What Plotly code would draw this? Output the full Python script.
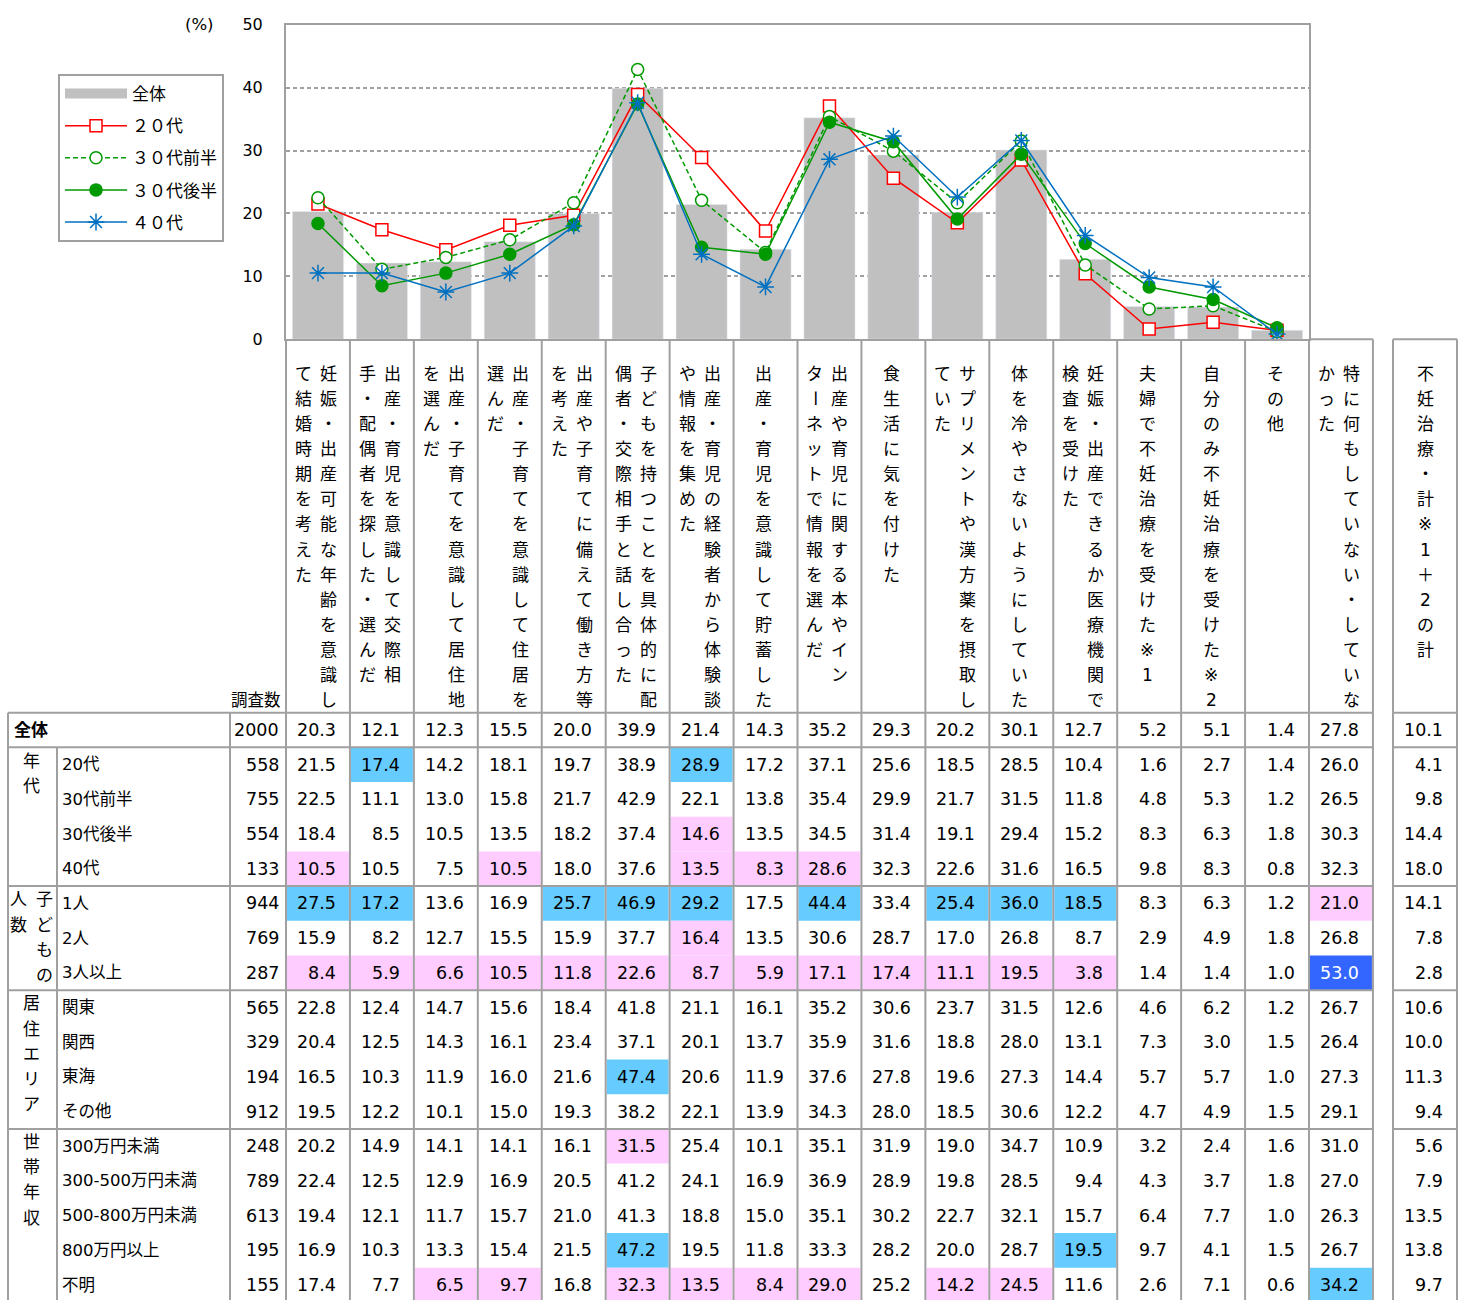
import plotly.graph_objects as go

W, H = 1464, 1310

# column headers (vertical text, first line is the right-hand column)
HEADERS = [
    ("妊娠・出産可能な年齢を意識し", "て結婚時期を考えた"),
    ("出産・育児を意識して交際相", "手・配偶者を探した・選んだ"),
    ("出産・子育てを意識して居住地", "を選んだ"),
    ("出産・子育てを意識して住居を", "選んだ"),
    ("出産や子育てに備えて働き方等", "を考えた"),
    ("子どもを持つことを具体的に配", "偶者・交際相手と話し合った"),
    ("出産・育児の経験者から体験談", "や情報を集めた"),
    ("出産・育児を意識して貯蓄した",),
    ("出産や育児に関する本やイン", "ターネットで情報を選んだ"),
    ("食生活に気を付けた",),
    ("サプリメントや漢方薬を摂取し", "ていた"),
    ("体を冷やさないようにしていた",),
    ("妊娠・出産できるか医療機関で", "検査を受けた"),
    ("夫婦で不妊治療を受けた※1",),
    ("自分のみ不妊治療を受けた※2",),
    ("その他",),
    ("特に何もしていない・していな", "かった"),
]
FUNIN_HEADER = ("不妊治療・計※1＋2の計",)
N_CHART = 16  # categories shown in the chart

ROW_LABELS = ["全体", "20代", "30代前半", "30代後半", "40代", "1人", "2人", "3人以上",
              "関東", "関西", "東海", "その他", "300万円未満", "300-500万円未満",
              "500-800万円未満", "800万円以上", "不明"]
GROUPS = [("年代", 1, 4), ("子どもの人数", 5, 7), ("居住エリア", 8, 11), ("世帯年収", 12, 16)]
SAMPLE_N = [2000, 558, 755, 554, 133, 944, 769, 287, 565, 329, 194, 912, 248, 789, 613, 195, 155]

zentai = [20.3, 12.1, 12.3, 15.5, 20.0, 39.9, 21.4, 14.3, 35.2, 29.3, 20.2, 30.1, 12.7, 5.2, 5.1, 1.4, 27.8]
age20 = [21.5, 17.4, 14.2, 18.1, 19.7, 38.9, 28.9, 17.2, 37.1, 25.6, 18.5, 28.5, 10.4, 1.6, 2.7, 1.4, 26.0]
age30a = [22.5, 11.1, 13.0, 15.8, 21.7, 42.9, 22.1, 13.8, 35.4, 29.9, 21.7, 31.5, 11.8, 4.8, 5.3, 1.2, 26.5]
age30b = [18.4, 8.5, 10.5, 13.5, 18.2, 37.4, 14.6, 13.5, 34.5, 31.4, 19.1, 29.4, 15.2, 8.3, 6.3, 1.8, 30.3]
age40 = [10.5, 10.5, 7.5, 10.5, 18.0, 37.6, 13.5, 8.3, 28.6, 32.3, 22.6, 31.6, 16.5, 9.8, 8.3, 0.8, 32.3]
kids1 = [27.5, 17.2, 13.6, 16.9, 25.7, 46.9, 29.2, 17.5, 44.4, 33.4, 25.4, 36.0, 18.5, 8.3, 6.3, 1.2, 21.0]
kids2 = [15.9, 8.2, 12.7, 15.5, 15.9, 37.7, 16.4, 13.5, 30.6, 28.7, 17.0, 26.8, 8.7, 2.9, 4.9, 1.8, 26.8]
kids3 = [8.4, 5.9, 6.6, 10.5, 11.8, 22.6, 8.7, 5.9, 17.1, 17.4, 11.1, 19.5, 3.8, 1.4, 1.4, 1.0, 53.0]
kanto = [22.8, 12.4, 14.7, 15.6, 18.4, 41.8, 21.1, 16.1, 35.2, 30.6, 23.7, 31.5, 12.6, 4.6, 6.2, 1.2, 26.7]
kansai = [20.4, 12.5, 14.3, 16.1, 23.4, 37.1, 20.1, 13.7, 35.9, 31.6, 18.8, 28.0, 13.1, 7.3, 3.0, 1.5, 26.4]
tokai = [16.5, 10.3, 11.9, 16.0, 21.6, 47.4, 20.6, 11.9, 37.6, 27.8, 19.6, 27.3, 14.4, 5.7, 5.7, 1.0, 27.3]
area_other = [19.5, 12.2, 10.1, 15.0, 19.3, 38.2, 22.1, 13.9, 34.3, 28.0, 18.5, 30.6, 12.2, 4.7, 4.9, 1.5, 29.1]
inc_300 = [20.2, 14.9, 14.1, 14.1, 16.1, 31.5, 25.4, 10.1, 35.1, 31.9, 19.0, 34.7, 10.9, 3.2, 2.4, 1.6, 31.0]
inc_500 = [22.4, 12.5, 12.9, 16.9, 20.5, 41.2, 24.1, 16.9, 36.9, 28.9, 19.8, 28.5, 9.4, 4.3, 3.7, 1.8, 27.0]
inc_800 = [19.4, 12.1, 11.7, 15.7, 21.0, 41.3, 18.8, 15.0, 35.1, 30.2, 22.7, 32.1, 15.7, 6.4, 7.7, 1.0, 26.3]
inc_800up = [16.9, 10.3, 13.3, 15.4, 21.5, 47.2, 19.5, 11.8, 33.3, 28.2, 20.0, 28.7, 19.5, 9.7, 4.1, 1.5, 26.7]
inc_unknown = [17.4, 7.7, 6.5, 9.7, 16.8, 32.3, 13.5, 8.4, 29.0, 25.2, 14.2, 24.5, 11.6, 2.6, 7.1, 0.6, 34.2]
FUNIN = [10.1, 4.1, 9.8, 14.4, 18.0, 14.1, 7.8, 2.8, 10.6, 10.0, 11.3, 9.4, 5.6, 7.9, 13.5, 13.8, 9.7]

TABLE = [zentai, age20, age30a, age30b, age40, kids1, kids2, kids3, kanto, kansai, tokai,
         area_other, inc_300, inc_500, inc_800, inc_800up, inc_unknown]

CATS = ["".join(h) for h in HEADERS[:N_CHART]]

# page geometry (pixels)
PL, PR, PT, PB = 286, 1309, 16, 335
COL_W = (PR - PL) / N_CHART
ROW_TOP, ROW_H = 714, 35.2
FUNIN_L, FUNIN_R = 1393, 1457
TABLE_R = PL + COL_W * len(HEADERS)
GRAY = "#A0A0A0"
FONT = "DejaVu Sans, Noto Sans CJK JP"


def px(x):
    return x / W


def py(y):
    return 1 - y / H


annotations = []
shapes = []


def text(x, y, s, size=17, xanchor="center", color="black", bold=False, angle=0):
    if bold:
        s = "<b>" + s + "</b>"
    annotations.append(dict(x=px(x), y=py(y), xref="paper", yref="paper", text=s,
                            showarrow=False, xanchor=xanchor, yanchor="middle",
                            textangle=angle, font=dict(size=size, color=color, family=FONT)))


def line(x0, y0, x1, y1):
    shapes.append(dict(type="line", xref="paper", yref="paper", x0=px(x0), y0=py(y0),
                       x1=px(x1), y1=py(y1), line=dict(color=GRAY, width=2)))


def vtext(x, y0, s, step=25.5, size=17):
    for j, ch in enumerate(s):
        text(x, y0 + j * step, ch, size=size, angle=90 if ch == "ー" else 0)


fig = go.Figure()
fig.add_trace(go.Bar(x=CATS, y=zentai[:N_CHART], name="全体", marker_color="#C0C0C0",
                     showlegend=False))
# wide grey swatch for the bar in the legend
fig.add_trace(go.Scatter(x=[None], y=[None], name="全体", mode="lines", legendgroup="a",
                         line=dict(color="#C0C0C0", width=12)))
series = [
    ("２０代", age20, "#FF0000", "square", "white", "solid", "b"),
    ("３０代前半", age30a, "#009900", "circle", "white", "5px,3px", "c"),
    ("３０代後半", age30b, "#009900", "circle", "#009900", "solid", "d"),
    ("４０代", age40, "#0070C0", "asterisk-open", "#0070C0", "solid", "e"),
]
for name, vals, col, sym, fill, dash, grp in series:
    fig.add_trace(go.Scatter(
        x=CATS, y=vals[:N_CHART], name=name, mode="lines+markers", legendgroup=grp,
        line=dict(color=col, width=1.5, dash=dash),
        marker=dict(symbol=sym, size=12 if sym != "asterisk-open" else 14, color=fill,
                    line=dict(color=col, width=1.5))))

# header texts
for k, lines in enumerate(HEADERS):
    cx = PL + COL_W * (k + 0.5)
    if len(lines) == 1:
        vtext(cx - 2, 370, lines[0])
    else:
        vtext(cx + 10.5, 370, lines[0])
        vtext(cx - 14.5, 370, lines[1])
vtext((FUNIN_L + FUNIN_R) / 2, 370, FUNIN_HEADER[0])
text(256, 702, "調査数", size=16.5)
text(199, 16, "(%)", size=16.5)

# highlights and numbers
for i, row in enumerate(TABLE):
    yc = ROW_TOP + ROW_H * (i + 0.5)
    y_lo = min(ROW_TOP + ROW_H * (i + 1), H)
    for k, v in enumerate(row):
        x0 = PL + COL_W * k
        color = "black"
        if i > 0:
            d = round(v - zentai[k], 1)
            fill = None
            if d >= 10:
                fill, color = "#3366FF", "white"
            elif d >= 5:
                fill = "#66CCFF"
            elif d <= -5:
                fill = "#FFCCFF"
            if fill:
                shapes.append(dict(type="rect", xref="paper", yref="paper", layer="below",
                                   x0=px(x0 + 1), x1=px(x0 + COL_W - 1),
                                   y0=py(ROW_TOP + ROW_H * i), y1=py(y_lo),
                                   line=dict(width=0), fillcolor=fill))
        text(x0 + COL_W - 12, yc, f"{v:.1f}", size=17.5, xanchor="right", color=color)
    text(FUNIN_R - 12, yc, f"{FUNIN[i]:.1f}", size=17.5, xanchor="right")
    text(281, yc, str(SAMPLE_N[i]), size=17.5, xanchor="right")
    if i == 0:
        text(12, yc, ROW_LABELS[i], size=17, xanchor="left", bold=True)
    else:
        text(60, yc, ROW_LABELS[i], size=16.5, xanchor="left")

# group labels
for name, r0, r1 in GROUPS:
    top = ROW_TOP + ROW_H * r0
    if name == "子どもの人数":
        vtext(44, top + 13.5, "子どもの")
        vtext(18, top + 13.5, "人数")
    else:
        vtext(31, top + 13.5, name)

# table grid (kept inside the page)
bottom = H
for r in [0, 1, 5, 8, 12]:
    y = ROW_TOP + ROW_H * r
    line(8, y, TABLE_R, y)
    line(FUNIN_L, y, FUNIN_R, y)
line(8, ROW_TOP, 8, bottom)
line(57, ROW_TOP + ROW_H, 57, bottom)
line(230, ROW_TOP, 230, bottom)
for k in range(len(HEADERS) + 1):
    x = PL + COL_W * k
    line(x, PB, x, bottom)
line(PR, PB, TABLE_R, PB)
line(FUNIN_L, PB, FUNIN_R, PB)
line(FUNIN_L, PB, FUNIN_L, bottom)
line(FUNIN_R, PB, FUNIN_R, bottom)

fig.update_layout(
    width=W, height=H, margin=dict(l=0, r=0, t=0, b=0),
    paper_bgcolor="white", plot_bgcolor="white",
    font=dict(family=FONT, size=17, color="black"),
    bargap=0.2,
    showlegend=True,
    legend=dict(x=px(58), y=py(66), xanchor="left", yanchor="top", bgcolor="white",
                bordercolor=GRAY, borderwidth=2, font=dict(size=17), itemwidth=62,
                tracegroupgap=7, traceorder="grouped"),
    xaxis=dict(domain=[px(PL), px(PR)], type="category", range=[-0.5, N_CHART - 0.5],
               showticklabels=False, ticks="", showgrid=False, showline=True, mirror=True,
               linecolor=GRAY, linewidth=2, fixedrange=True),
    yaxis=dict(domain=[py(PB), py(PT)], range=[0, 50], dtick=10, showgrid=True,
               gridcolor=GRAY, gridwidth=1.5, griddash="4px,3px", zeroline=False,
               showline=True, mirror=True, linecolor=GRAY, linewidth=2,
               ticklabelstandoff=18, tickfont=dict(size=16), fixedrange=True),
    annotations=annotations,
    shapes=shapes,
)

# the figure is exactly the window size, so drop the default body margin
fig.write_html("out.html", config={"displayModeBar": False},
               post_script="document.body.style.margin='0';document.body.style.overflow='hidden';")
